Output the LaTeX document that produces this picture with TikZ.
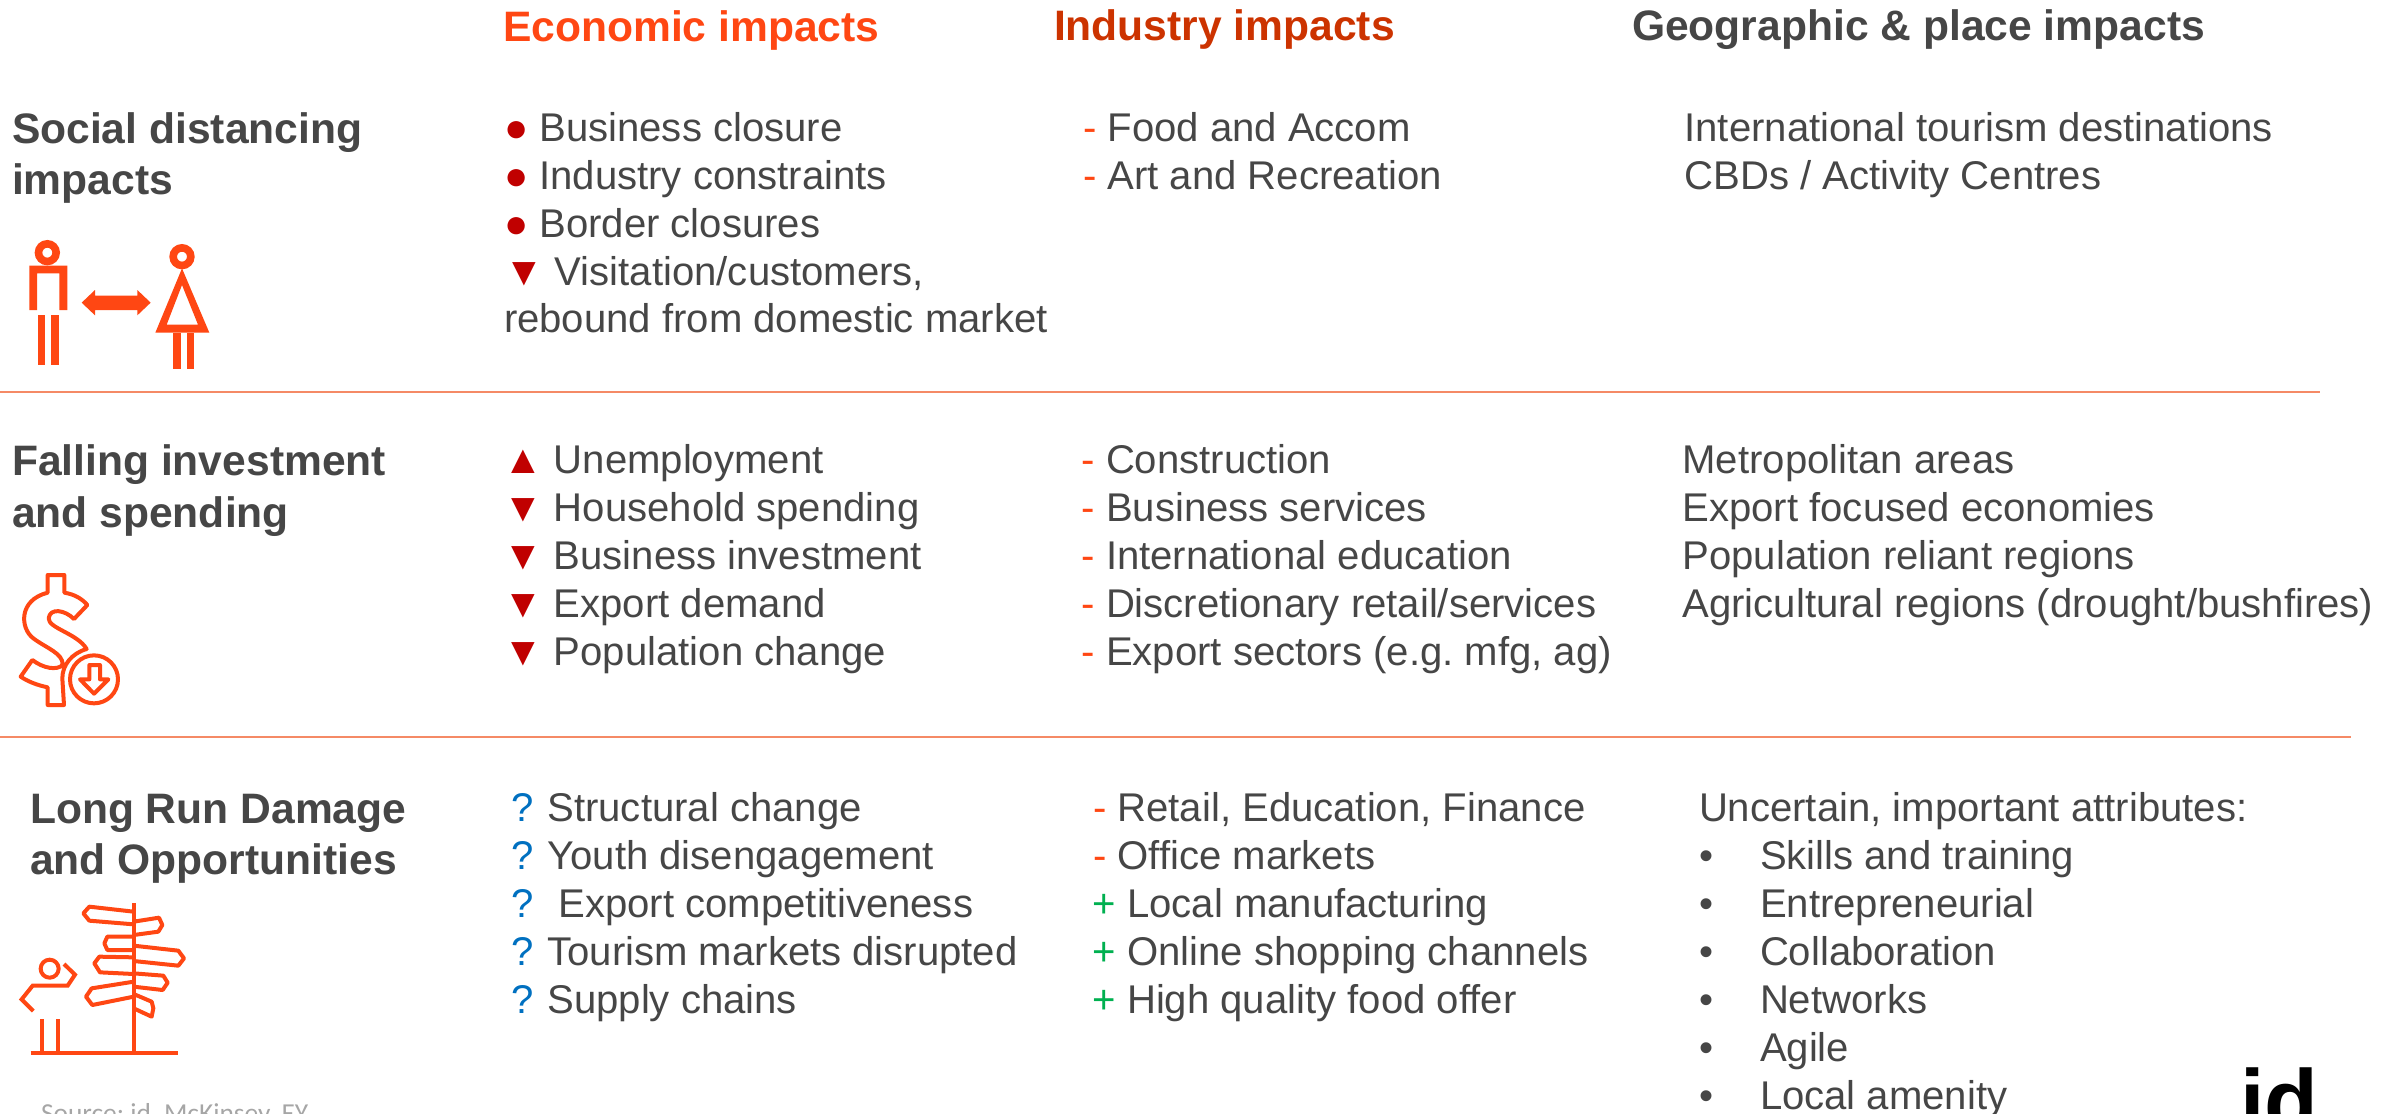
\documentclass[tikz,border=0pt]{standalone}
\usepackage{fontspec}
\setmainfont{Liberation Sans}
\newfontfamily\srcfont{Carlito}
\frenchspacing
\definecolor{txtgray}{HTML}{464646}
\definecolor{orangered}{HTML}{FF4713}
\definecolor{indred}{HTML}{CC3300}
\definecolor{darkred}{HTML}{C00000}
\definecolor{qblue}{HTML}{0070C0}
\definecolor{plusgreen}{HTML}{00B050}
\definecolor{rulecol}{HTML}{F58A66}
\newcommand{\rd}[1]{\textcolor{darkred}{#1}}
\newcommand{\dsh}{\textcolor{orangered}{-}}
\newcommand{\qm}{\textcolor{qblue}{?}\kern1.5pt}
\newcommand{\pls}{\textcolor{plusgreen}{+}}
\tikzset{
  x=0.5pt,y=-0.5pt,
  base/.style={inner sep=0pt,outer sep=0pt,anchor=base west,text=txtgray},
  body/.style={base,font=\fontsize{20.05pt}{24pt}\selectfont},
  head/.style={base,font=\fontsize{21.3pt}{25pt}\selectfont\bfseries},
  rowrule/.style={draw=rulecol,line width=1pt},
  iconfill/.style={fill=orangered,draw=none},
  iconline/.style={draw=orangered,line width=2pt,line join=round,fill=none},
  izoom/.style={x=0.16667pt,y=-0.16667pt},
}
\begin{document}
\begin{tikzpicture}
\useasboundingbox (0,0) rectangle (2397,1113);
% headers
\node[head,text=orangered] (h1) at (503,42) {Economic impacts};
\node[head,text=indred] (h2) at (1054,41) {Industry impacts};
\node[head] (h3) at (1632,41) {Geographic \& place impacts};
% row titles
\node[head] (r1a) at (12,143) {Social distancing};
\node[head] (r1b) at (12,194) {impacts};
\node[head] (r2a) at (12,475) {Falling investment};
\node[head] (r2b) at (12,527) {and spending};
\node[head] (r3a) at (30,823) {Long Run Damage};
\node[head] (r3b) at (30,874) {and Opportunities};
% row 1
\node[body] (e11) at (504,141) {\rd{●} Business closure};
\node[body] (e12) at (504,189) {\rd{●} Industry constraints};
\node[body] (e13) at (504,237) {\rd{●} Border closures};
\node[body] (e14) at (504,285) {\rd{▼} Visitation/customers,};
\node[body] (e15) at (504,332) {rebound from domestic market};
\node[body] (i11) at (1083,141) {\dsh{} Food and Accom};
\node[body] (i12) at (1083,189) {\dsh{} Art and Recreation};
\node[body] (g11) at (1684.5,141) {International tourism destinations};
\node[body] (g12) at (1684.5,189) {CBDs / Activity Centres};
% row 2
\node[body] (e21) at (503,473) {\rd{▲} Unemployment};
\node[body] (e22) at (503,521) {\rd{▼} Household spending};
\node[body] (e23) at (503,569) {\rd{▼} Business investment};
\node[body] (e24) at (503,617) {\rd{▼} Export demand};
\node[body] (e25) at (503,665) {\rd{▼} Population change};
\node[body] (i21) at (1081.5,473) {\dsh{} Construction};
\node[body] (i22) at (1081.5,521) {\dsh{} Business services};
\node[body] (i23) at (1081.5,569) {\dsh{} International education};
\node[body] (i24) at (1081.5,617) {\dsh{} Discretionary retail/services};
\node[body] (i25) at (1081.5,665) {\dsh{} Export sectors (e.g. mfg, ag)};
\node[body] (g21) at (1682.5,473) {Metropolitan areas};
\node[body] (g22) at (1682.5,521) {Export focused economies};
\node[body] (g23) at (1682.5,569) {Population reliant regions};
\node[body] (g24) at (1682.5,617) {Agricultural regions (drought/bushfires)};
% row 3
\node[body] (e31) at (511,821) {\qm{} Structural change};
\node[body] (e32) at (511,869) {\qm{} Youth disengagement};
\node[body] (e33) at (511,917) {\qm{}~~Export competitiveness};
\node[body] (e34) at (511,965) {\qm{} Tourism markets disrupted};
\node[body] (e35) at (511,1013) {\qm{} Supply chains};
\node[body] (i31) at (1093,821) {\dsh{} Retail, Education, Finance};
\node[body] (i32) at (1093,869) {\dsh{} Office markets};
\node[body] (i33) at (1092.5,917) {\pls{} Local manufacturing};
\node[body] (i34) at (1092.5,965) {\pls{} Online shopping channels};
\node[body] (i35) at (1092.5,1013) {\pls{} High quality food offer};
\node[body] (g30) at (1699,821) {Uncertain, important attributes:};
\node[body] (b1) at (1699.5,869) {•};
\node[body] (b2) at (1699.5,917) {•};
\node[body] (b3) at (1699.5,965) {•};
\node[body] (b4) at (1699.5,1013) {•};
\node[body] (b5) at (1699.5,1061) {•};
\node[body] (b6) at (1699.5,1109) {•};
\node[body] (g31) at (1760,869) {Skills and training};
\node[body] (g32) at (1760,917) {Entrepreneurial};
\node[body] (g33) at (1760,965) {Collaboration};
\node[body] (g34) at (1760,1013) {Networks};
\node[body] (g35) at (1760,1061) {Agile};
\node[body] (g36) at (1760,1109) {Local amenity};
% footer
\node[base,text=black!35,font=\fontsize{13.7pt}{16pt}\selectfont\srcfont] (src) at (41,1122.5) {Source: id, McKinsey, EY};
\node[base,text=black,font=\fontsize{44pt}{48pt}\selectfont\bfseries] (logo) at (2240,1131) {id};
% rules
\coordinate (l1a) at (0,391.5); \coordinate (l1b) at (2320,391.5);
\coordinate (l2a) at (0,737); \coordinate (l2b) at (2351,737);
\draw[rowrule] (l1a) -- (l1b);
\draw[rowrule] (l2a) -- (l2b);
% distancing icon
\begin{scope}[shift={(0,200)},izoom]
  \draw[orangered,line width=3.8pt] (142,158) circle (26.5);
  \fill[iconfill] (88,330) -- (88,197) -- (202,197) -- (202,330) -- (178,330) -- (178,220) -- (111,220) -- (111,330) -- cycle;
  \fill[iconfill] (113,345) rectangle (136,496);
  \fill[iconfill] (154,345) rectangle (177,496);
  \fill[iconfill] (245,308) -- (285,270) -- (285,287) -- (412,287) -- (412,270) -- (452,308) -- (412,346) -- (412,330) -- (285,330) -- (285,346) -- cycle;
  \draw[orangered,line width=3.8pt] (546,170) circle (26.5);
  \fill[iconfill,even odd rule] (546,205) -- (628,398) -- (466,398) -- cycle (546,255) -- (500,374) -- (594,374) -- cycle;
  \fill[iconfill] (518,398) rectangle (543,507);
  \fill[iconfill] (560,398) rectangle (583,507);
\end{scope}
% dollar icon
\begin{scope}[shift={(0,550)},izoom]
  \draw[iconline] (143,75) -- (193,75) -- (193,128) .. controls (225,133) and (248,148) .. (262,165)
    -- (222,207) .. controls (195,180) and (150,172) .. (146,205)
    .. controls (145,235) and (232,250) .. (260,297)
    .. controls (215,310) and (187,345) .. (187,385) -- (192,465) -- (143,465) -- (143,412)
    .. controls (110,405) and (85,395) .. (62,380) -- (97,330)
    .. controls (130,355) and (170,362) .. (188,345)
    .. controls (190,310) and (140,295) .. (100,265)
    .. controls (60,235) and (55,150) .. (143,128) -- cycle;
  \draw[iconline] (282,388) circle (72);
  \draw[iconline] (268,345) -- (300,345) -- (300,388) -- (325,388) -- (282,431) -- (240,388) -- (268,388) -- cycle;
\end{scope}
% signpost icon
\begin{scope}[shift={(0,880)},izoom]
  \draw[iconline] (92,520) -- (535,520);
  \draw[iconline] (401,70) -- (401,520);
  \draw[iconline] (401,95) -- (268,80) -- (250,100) -- (268,122) -- (401,133);
  \draw[iconline] (401,125) -- (477,113) -- (487,135) -- (475,155) -- (401,165);
  \draw[iconline] (401,170) -- (322,170) -- (313,190) -- (322,210) -- (401,210);
  \draw[iconline] (401,197) -- (535,212) -- (552,235) -- (535,257) -- (401,243);
  \draw[iconline] (401,232) -- (298,230) -- (283,250) -- (300,277) -- (401,282);
  \draw[iconline] (401,280) -- (490,287) -- (503,308) -- (488,330) -- (401,320);
  \draw[iconline] (401,305) -- (275,325) -- (258,350) -- (277,375) -- (401,350);
  \draw[iconline] (401,342) -- (455,365) -- (460,385) -- (455,410) -- (401,385);
  \draw[iconline] (149,266) circle (27);
  \draw[iconline,line join=miter] (100,393) -- (65,358) -- (98,317) -- (203,317) -- (225,284) -- (192,252);
  \draw[iconline] (126,418) -- (126,520);
  \draw[iconline] (175,418) -- (175,520);
\end{scope}
\end{tikzpicture}
\end{document}
